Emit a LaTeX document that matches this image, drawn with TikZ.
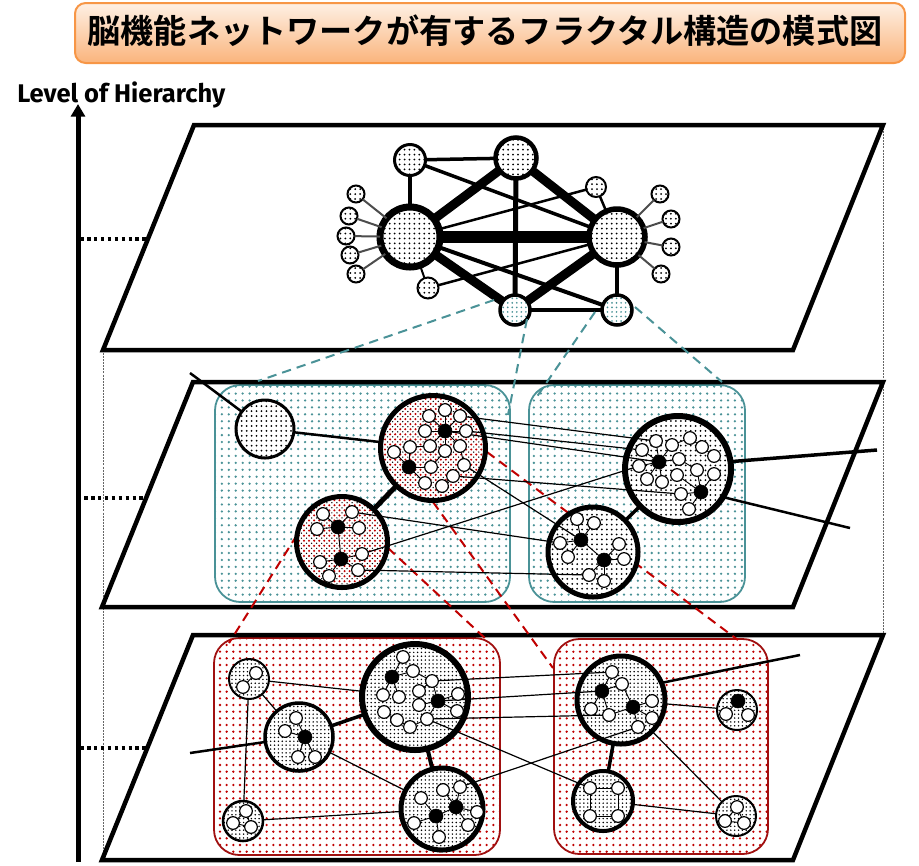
\documentclass[tikz,border=0pt]{standalone}
\usepackage{fontspec}
\usepackage{graphicx}
\newfontfamily\cjk{Noto Sans CJK JP Bold}
\newfontfamily\lblfont{Fira Sans}
\usetikzlibrary{patterns.meta,arrows.meta}
\definecolor{tealcol}{HTML}{4A9297}
\definecolor{redcol}{HTML}{C00000}
\definecolor{redbord}{HTML}{A01010}
\definecolor{ttop}{HTML}{FEF0E4}
\definecolor{tbot}{HTML}{FAB47C}
\definecolor{tborder}{HTML}{F79646}
\pgfdeclarelayer{lines}
\pgfdeclarelayer{top}
\pgfsetlayers{main,lines,top}
\tikzset{
  sz/.style={minimum size=#1*1.5pt},
  lw/.style={line width=#1*0.75pt},
  cnode/.style={circle, draw, inner sep=0pt, outer sep=0pt},
  blk/.style={cnode, preaction={fill=white}, pattern={Dots[radius=0.75pt,distance=3.7pt]}, pattern color=black},
  blkd/.style={cnode, preaction={fill=white}, pattern={Dots[radius=0.62pt,distance=2.9pt]}, pattern color=black},
  tealn/.style={cnode, preaction={fill=white}, pattern={Dots[radius=0.7pt,distance=3.4pt]}, pattern color=tealcol},
  redn/.style={cnode, preaction={fill=white}, preaction={pattern={Dots[radius=0.85pt,distance=3.8pt]}, pattern color=redcol}, pattern={Dots[radius=0.55pt,distance=3.8pt,xshift=1.9pt,yshift=1.9pt]}, pattern color=black},
  wn/.style={cnode, fill=white, minimum size=9.5pt, line width=0.9pt},
  bn/.style={cnode, fill=black, minimum size=10.5pt},
  sat/.style={blk, sz=8.5, lw=2},
  plane/.style={lw=4.5, line join=miter},
  tbox/.style={draw=tealcol, lw=1.8, rounded corners=19pt, preaction={fill=white}, pattern={Dots[radius=0.95pt,distance=5.2pt]}, pattern color=tealcol},
  rbox/.style={draw=redbord, lw=1.8, rounded corners=19pt, preaction={fill=white}, pattern={Dots[radius=0.95pt,distance=5pt]}, pattern color=redcol},
  tdash/.style={draw=tealcol, lw=2, dash pattern=on 7pt off 4.5pt},
  rdash/.style={draw=redcol, lw=2, dash pattern=on 7pt off 4.5pt},
  lvl/.style={lw=3.5, dash pattern=on 2.7pt off 2.5pt},
  guide/.style={draw=black!60, line width=0.5pt, dash pattern=on 1.5pt off 0.8pt},
  xl/.style={line width=0.9pt},
  il/.style={line width=0.7pt},
  satl/.style={draw=black!70, lw=2},
  titlebox/.style={draw=tborder, lw=2, rounded corners=8pt, top color=ttop, bottom color=tbot, inner sep=0pt},
}
\begin{document}
\begin{tikzpicture}[x=0.75pt,y=-0.75pt]
\useasboundingbox (0,0) rectangle (919,865);

% title
\node[titlebox, minimum width=830*0.75pt, minimum height=60*0.75pt] (tbx) at (490,33) {};
\node[inner sep=0pt] (ttl) at (485,31) {\resizebox{596pt}{!}{\cjk 脳機能ネットワークが有するフラクタル構造の模式図}};

% axis
\node[anchor=west, inner sep=0pt] (lvltxt) at (17,95) {\resizebox{156pt}{!}{\lblfont\bfseries Level of Hierarchy}};
\coordinate (ax0) at (78,862);
\coordinate (ax1) at (78,104);
\draw[lw=5, -{Triangle[length=9.5pt,width=10.5pt]}] (ax0) -- (ax1);

% guides
\draw[guide] (103,350) -- (103,860);
\draw[guide] (883,125) -- (883,635);

% level markers
\draw[lvl] (80,239) -- (147,239);
\draw[lvl] (84,498) -- (146,498);
\draw[lvl] (80,748) -- (147,748);

% boxes
\draw[tbox] (215,385) rectangle (510,602);
\draw[tbox] (529,385) rectangle (745,602);
\draw[rbox] (214,638) rectangle (500,855);
\draw[rbox] (554,639) rectangle (768,854);

% planes
\draw[plane] (194,125) -- (883,125) -- (793,350) -- (103,350) -- cycle;
\draw[plane] (193,382) -- (883,382) -- (793,607) -- (102,607) -- cycle;
\draw[plane] (193,635) -- (883,635) -- (793,860) -- (102,860) -- cycle;

% ---------- top layer ----------
\node[blk, sz=30, lw=7] (T1) at (410,237) {};
\node[blk, sz=28, lw=5.5] (T2) at (617,237) {};
\node[blk, sz=20.5, lw=4.5] (T3) at (516,158) {};
\node[blk, sz=15.5, lw=3] (T4) at (410,160) {};
\node[tealn, sz=15, lw=3.5] (T5) at (515,310) {};
\node[tealn, sz=15, lw=3.5] (T6) at (617,310) {};
\node[blk, sz=10, lw=2] (T7) at (596,187) {};
\node[blk, sz=10.5, lw=2] (T8) at (428,288) {};
\foreach \n/\x/\y in {SL1/356/194, SL2/349/216, SL3/346/236, SL4/350/255, SL5/356/274, SR1/660/194, SR2/671/219, SR3/671/247, SR4/661/274}
  {\node[sat] (\n) at (\x,\y) {};}
\foreach \n in {SL1,SL2,SL3,SL4,SL5} {\draw[satl] (T1) -- (\n);}
\foreach \n in {SR1,SR2,SR3,SR4} {\draw[satl] (T2) -- (\n);}
\draw[lw=12] (T1) -- (T2);
\draw[lw=9] (T1) -- (T3);
\draw[lw=9] (T2) -- (T3);
\draw[lw=9] (T1) -- (T5);
\draw[lw=9] (T2) -- (T5);
\draw[lw=5] (T3) -- (T5);
\draw[lw=3.5] (T1) -- (T4);
\draw[lw=3.5] (T4) -- (T3);
\draw[lw=3.5] (T4) -- (T2);
\draw[lw=4] (T1) -- (T6);
\draw[lw=4] (T2) -- (T6);
\draw[lw=4] (T5) -- (T6);
\draw[lw=2.5] (T1) -- (T7);
\draw[lw=2.5] (T2) -- (T7);
\draw[lw=2.5] (T8) -- (T2);
\draw[lw=2] (T8) -- (T1);

% teal dashed projections
\coordinate (q1s) at (494,300); \coordinate (q1e) at (258,381);
\coordinate (q2s) at (527,319); \coordinate (q2e) at (508,415);
\coordinate (q3s) at (595,312); \coordinate (q3e) at (536,398);
\coordinate (q4s) at (635,307); \coordinate (q4e) at (722,382);
\draw[tdash] (q1s) -- (q1e);
\draw[tdash] (q2s) -- (q2e);
\draw[tdash] (q3s) -- (q3e);
\draw[tdash] (q4s) -- (q4e);

% red dashed projections (behind the middle circles)
\coordinate (r1s) at (297,535); \coordinate (r1e) at (229,643);
\coordinate (r2s) at (388,548); \coordinate (r2e) at (487,640);
\coordinate (r3s) at (487,452); \coordinate (r3e) at (738,640);
\coordinate (r4s) at (433,502); \coordinate (r4e) at (553,668);
\draw[rdash] (r1s) -- (r1e);
\draw[rdash] (r2s) -- (r2e);
\draw[rdash] (r3s) -- (r3e);
\draw[rdash] (r4s) -- (r4e);

% ---------- middle layer ----------
\node[blk, sz=29, lw=3] (M1) at (265,429) {};
\node[redn, sz=52.5, lw=5] (M2) at (433,448) {};
\node[redn, sz=45.5, lw=5] (M3) at (342,542) {};
\node[blk, sz=53, lw=6] (M4) at (678,469) {};
\node[blk, sz=45, lw=5] (M5) at (593,552) {};
\coordinate (p1) at (190,373);
\coordinate (p2) at (877,450);
\coordinate (p3) at (850,528);
\draw[lw=2.5] (p1) -- (M1);
\draw[lw=2.5] (M1) -- (M2);
\draw[lw=5] (M2) -- (M3);
\draw[lw=3.5] (M4) -- (M5);
\draw[lw=3.5] (M4.8) -- (p2);
\draw[lw=2.5] (M4.-32) -- (p3);

\begin{pgfonlayer}{top}
\foreach \n/\x/\y in {m2a/429/416, m2b/445/410, m2c/460/416, m2d/425/431, m2e/466/431, m2f/410/447, m2g/430/446, m2h/445/451, m2i/460/446, m2j/394/452, m2k/431/467, m2l/464/465, m2m/453/476, m2n/425/483, m2o/442/486,
  m3a/323/514, m3b/352/512, m3c/317/529, m3d/359/528, m3e/362/554, m3f/320/562, m3g/329/576, m3h/358/570,
  m4a/656/441, m4b/672/445, m4c/690/438, m4d/702/447, m4e/714/456, m4f/642/450, m4g/679/459, m4h/697/470, m4i/639/466, m4j/647/479, m4k/662/482, m4l/677/475, m4m/714/474, m4n/681/494, m4o/689/509,
  m5a/577/519, m5b/594/523, m5c/560/543, m5d/568/557, m5e/619/544, m5f/624/559, m5g/589/575, m5h/604/581}
  {\node[wn] (\n) at (\x,\y) {};}
\foreach \n/\x/\y in {m2X/445/431, m2Y/409/467, m3X/338/527, m3Y/341/559, m4X/659/462, m4Y/701/492, m5X/581/540, m5Y/604/560}
  {\node[bn] (\n) at (\x,\y) {};}
\end{pgfonlayer}

\begin{pgfonlayer}{lines}
\foreach \n in {m2a,m2b,m2c,m2d,m2e,m2g,m2h,m2i} {\draw[il] (m2X) -- (\n);}
\foreach \n in {m2f,m2j,m2k,m2n} {\draw[il] (m2Y) -- (\n);}
\draw[il] (m2i) -- (m2l); \draw[il] (m2m) -- (m2o); \draw[il] (m2g) -- (m2f); \draw[il] (m2k) -- (m2h);
\foreach \n in {m3a,m3b,m3c,m3d} {\draw[il] (m3X) -- (\n);}
\foreach \n in {m3e,m3f,m3g,m3h} {\draw[il] (m3Y) -- (\n);}
\draw[il] (m3X) -- (m3Y);
\foreach \n in {m4a,m4b,m4f,m4g,m4i,m4j,m4k} {\draw[il] (m4X) -- (\n);}
\foreach \n in {m4h,m4m,m4n,m4o,m4l} {\draw[il] (m4Y) -- (\n);}
\draw[il] (m4b) -- (m4c); \draw[il] (m4c) -- (m4d); \draw[il] (m4d) -- (m4e); \draw[il] (m4g) -- (m4h);
\foreach \n in {m5a,m5b,m5c,m5d} {\draw[il] (m5X) -- (\n);}
\foreach \n in {m5e,m5f,m5g,m5h} {\draw[il] (m5Y) -- (\n);}
\draw[il] (m5X) -- (m5Y);
% cross links
\draw[xl] (m2c) -- (m4a);
\draw[xl] (m2e) -- (m4f);
\draw[xl] (m2X) -- (m4X);
\draw[xl] (m2l) -- (m5X);
\draw[xl] (m2m) -- (m4n);
\draw[xl] (m3e) -- (m4i);
\draw[xl] (m3b) -- (m5c);
\draw[xl] (m3h) -- (m5g);
\end{pgfonlayer}

% ---------- bottom layer ----------
\node[blkd, sz=20, lw=2] (BA) at (249,679) {};
\node[blkd, sz=34, lw=3.5] (BB) at (299,737) {};
\node[blkd, sz=53, lw=6] (BC) at (415,697) {};
\node[blkd, sz=41, lw=5] (BD) at (442,809) {};
\node[blkd, sz=20, lw=2.5] (BE) at (243,821) {};
\node[blkd, sz=44, lw=5] (BF) at (621,700) {};
\node[blkd, sz=30, lw=4] (BG) at (603,801) {};
\node[blkd, sz=20, lw=2] (BH) at (737,710) {};
\node[blkd, sz=20, lw=2] (BI) at (736,816) {};
\coordinate (p4) at (190,753);
\coordinate (p5) at (800,655);
\draw[lw=2.5] (p4) -- (BB);
\draw[lw=3.5] (BB) -- (BC);
\draw[lw=4] (BC) -- (BD);
\draw[lw=3.5] (BF) -- (BG);
\draw[lw=2.5] (BF.23) -- (p5);
\draw[xl] (BA) -- (BB);
\draw[xl] (BA) -- (BE);
\draw[xl] (BA) -- (BC);
\draw[xl] (BB) -- (BD);
\draw[xl] (BE) -- (BD);
\draw[xl] (BF) -- (BH);
\draw[xl] (BF) -- (BI);
\draw[xl] (BG) -- (BI);

\begin{pgfonlayer}{top}
\foreach \n/\x/\y in {a1/256/673, a2/243/687,
  b1/296/718, b2/285/731, b3/298/757, b4/315/757,
  c1/403/657, c2/413/671, c3/432/681, c4/419/691, c5/383/695, c6/399/697, c7/419/705, c8/458/694, c9/457/711, c10/384/712, c11/397/720, c12/410/727, c13/427/719,
  d1/421/798, d2/443/790, d3/460/787, d4/477/812, d5/468/825, d6/414/823, d7/439/837,
  e1/246/811, e2/233/823, e3/251/827,
  f1/612/672, f2/622/684, f3/591/709, f4/609/715, f5/652/701, f6/652/718, f7/638/727,
  g1/590/788, g2/618/788, g3/618/816, g4/590/816,
  h1/726/714, h2/748/715,
  i1/737/807, i2/725/821, i3/744/823}
  {\node[wn] (\n) at (\x,\y) {};}
\foreach \n/\x/\y in {bX/305/737, cX/392/677, cY/438/701, dX/436/816, dY/456/807, fX/602/691, fY/633/707, hX/738/701}
  {\node[bn] (\n) at (\x,\y) {};}
\end{pgfonlayer}

\begin{pgfonlayer}{lines}
\draw[il] (a1) -- (a2);
\foreach \n in {b1,b2,b3,b4} {\draw[il] (bX) -- (\n);}
\foreach \n in {c1,c2,c5,c6} {\draw[il] (cX) -- (\n);}
\foreach \n in {c3,c7,c8,c9,c13} {\draw[il] (cY) -- (\n);}
\draw[il] (c2) -- (c3); \draw[il] (c4) -- (c3); \draw[il] (c4) -- (c7);
\draw[il] (c10) -- (c11); \draw[il] (c11) -- (c12); \draw[il] (c12) -- (c13);
\foreach \n in {d1,d6,d7,dY} {\draw[il] (dX) -- (\n);}
\foreach \n in {d2,d3,d4,d5} {\draw[il] (dY) -- (\n);}
\draw[il] (e1) -- (e2); \draw[il] (e1) -- (e3); \draw[il] (e2) -- (e3);
\foreach \n in {f1,f2,f3,f4} {\draw[il] (fX) -- (\n);}
\foreach \n in {f4,f5,f6,f7,f2} {\draw[il] (fY) -- (\n);}
\draw[il] (g1) -- (g2) -- (g3) -- (g4) -- (g1);
\draw[il] (hX) -- (h1); \draw[il] (hX) -- (h2);
\draw[il] (i1) -- (i2); \draw[il] (i1) -- (i3); \draw[il] (i2) -- (i3);
% cross links
\draw[xl] (c3) -- (f1);
\draw[xl] (cY) -- (fX);
\draw[xl] (c13) -- (f4);
\draw[xl] (c13) -- (g1);
\draw[xl] (d3) -- (f7);
\end{pgfonlayer}
\end{tikzpicture}
\end{document}
